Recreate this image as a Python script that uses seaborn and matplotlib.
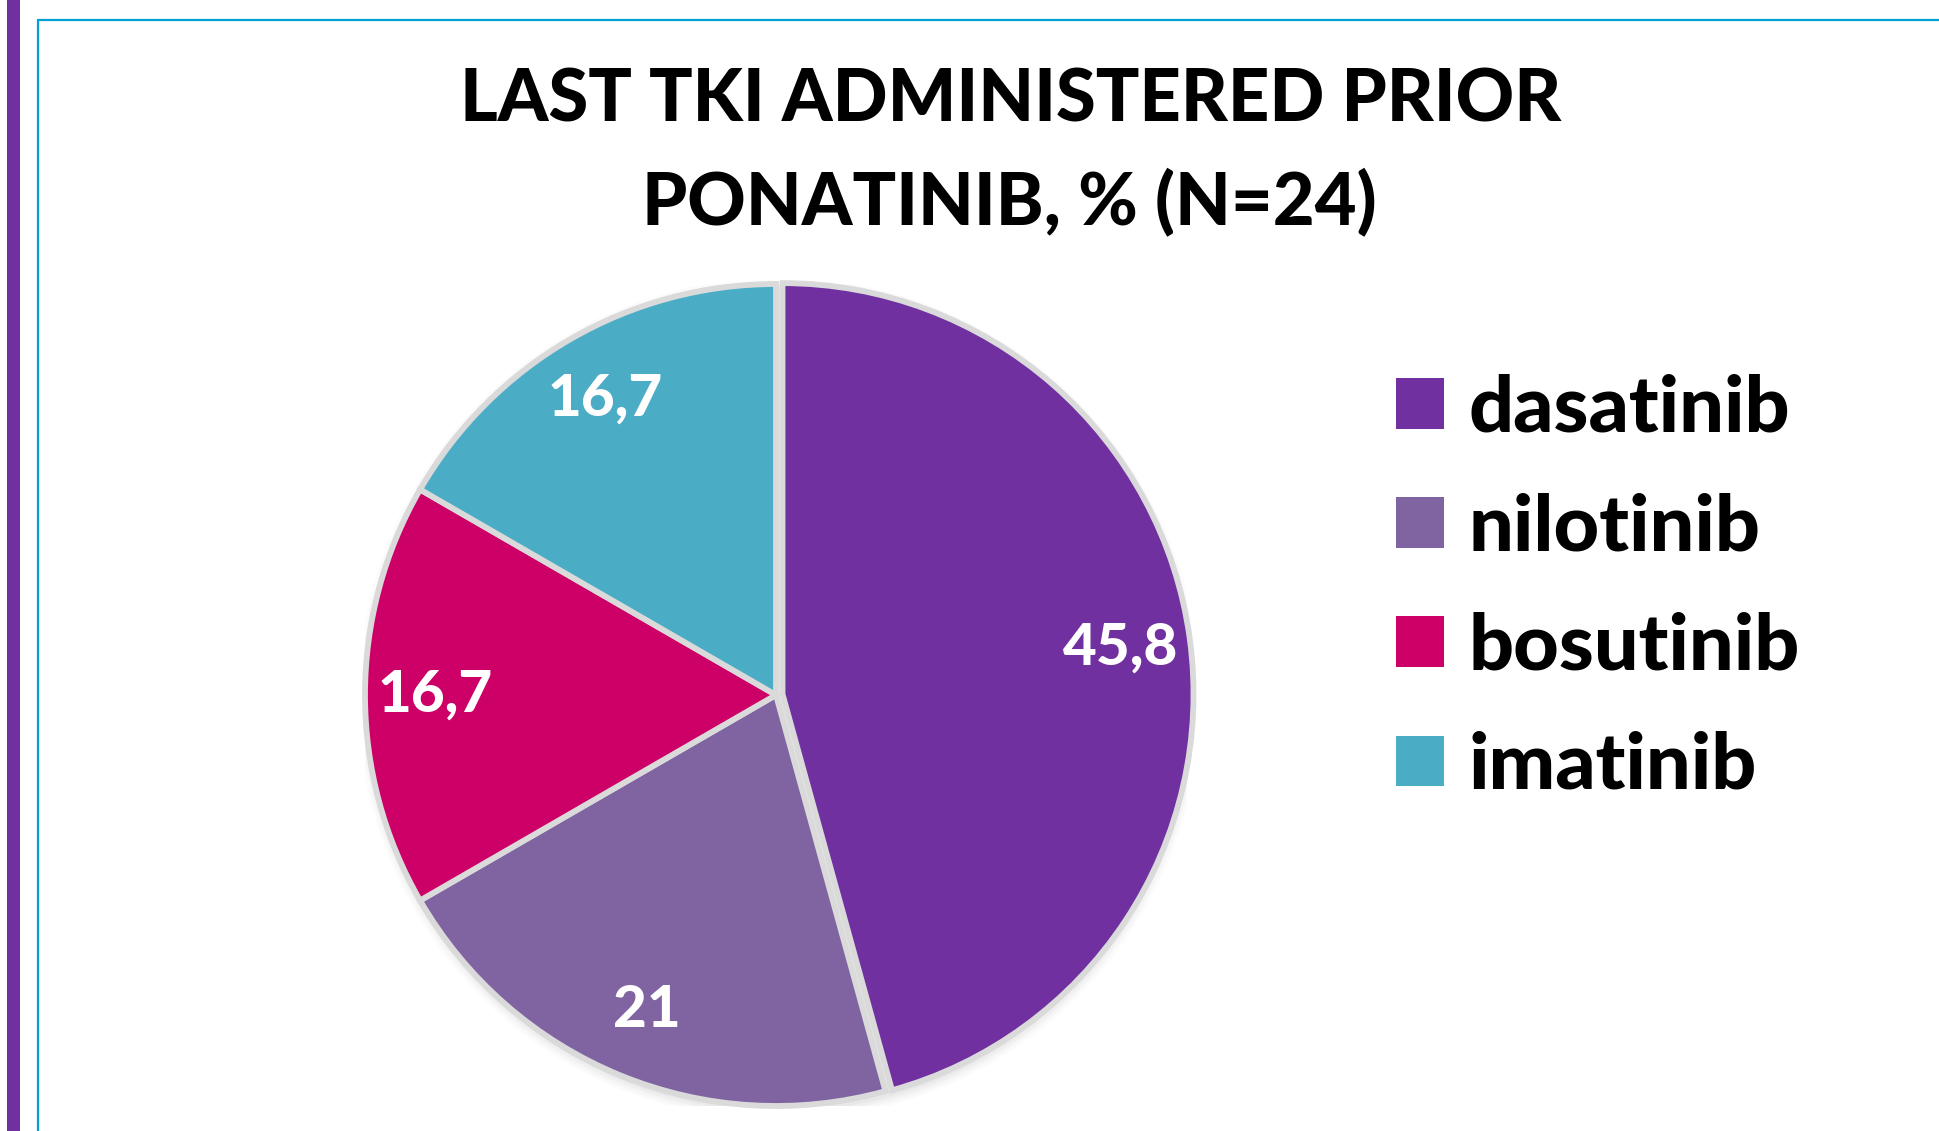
import matplotlib
matplotlib.use("Agg")
import matplotlib.pyplot as plt
import seaborn as sns
from matplotlib.patches import Rectangle, Circle
from matplotlib.lines import Line2D
from matplotlib.font_manager import FontProperties

# ---- data ----
categories = ["dasatinib", "nilotinib", "bosutinib", "imatinib"]
values = [45.8, 21, 16.7, 16.7]
value_labels = [f"{v:g}".replace(".", ",") for v in values]
colors_hex = ["#7030A0", "#8064A2", "#CC0066", "#4BACC6"]
title_lines = ["LAST TKI ADMINISTERED PRIOR", "PONATINIB, % (N=24)"]

sns.set_theme(style="white")
plt.rcParams["font.family"] = ["Lato", "DejaVu Sans"]
plt.rcParams["text.color"] = "black"
palette = sns.color_palette(colors_hex)

W, H = 1940, 1131
fig = plt.figure(figsize=(W / 100, H / 100), dpi=100)
fig.patch.set_facecolor("white")


def fx(x):
    return x / W


def fy(y):
    return 1 - y / H


# decorative frame
fig.patches.append(Rectangle((fx(7), 0), 13 / W, 1, transform=fig.transFigure,
                             facecolor="#7030A0", edgecolor="none"))
fig.lines.append(Line2D([fx(38), fx(38)], [0, fy(20)], transform=fig.transFigure,
                        color="#00A2D6", lw=1.6))
fig.lines.append(Line2D([fx(38), 1], [fy(20), fy(20)], transform=fig.transFigure,
                        color="#00A2D6", lw=1.6))

WEIGHT = 900

# title
title_font = FontProperties(family="Lato", weight=WEIGHT, size=52)
fig.text(fx(1011), fy(121), title_lines[0], ha="center", va="baseline",
         fontproperties=title_font, color="black")
fig.text(fx(1009), fy(225), title_lines[1], ha="center", va="baseline",
         fontproperties=title_font, color="black")

# pie
cx, cy, R = 776, 695, 411
ax = fig.add_axes([fx(cx - R), fy(cy + R), 2 * R / W, 2 * R / H])
ax.set_facecolor("none")

# soft shadow behind the pie
for k, a in enumerate([0.05, 0.05, 0.04, 0.03]):
    ax.add_patch(Circle((0.008, -0.010), 1.004 + 0.007 * k, facecolor="#808080",
                        edgecolor="none", alpha=a, zorder=0))

label_iter = iter(value_labels)
wedges, texts, autotexts = ax.pie(
    values,
    colors=palette,
    startangle=90,
    counterclock=False,
    explode=[0.016, 0, 0, 0],
    autopct=lambda p: next(label_iter),
    pctdistance=0.83,
    wedgeprops=dict(edgecolor="#DADADA", linewidth=4.2),
    textprops=dict(color="white", fontsize=42, fontweight=WEIGHT, family="Lato"),
)
for w in wedges:
    w.set_zorder(2)
for t in autotexts:
    t.set_zorder(3)
ax.set_xlim(-1, 1)
ax.set_ylim(-1, 1)
ax.set_aspect("equal")
ax.axis("off")

# legend
leg = fig.legend(
    handles=wedges, labels=categories, loc="upper left",
    bbox_to_anchor=(fx(1396), fy(373)), frameon=False,
    prop=FontProperties(family="Lato", weight=WEIGHT, size=57),
    handlelength=0.61, handleheight=0.61, handletextpad=0.3,
    labelspacing=0.61, borderpad=0, borderaxespad=0, labelcolor="black",
)
for h in leg.legend_handles:
    h.set_edgecolor("none")
    h.set_linewidth(0)

fig.savefig("out.png", dpi=100)
